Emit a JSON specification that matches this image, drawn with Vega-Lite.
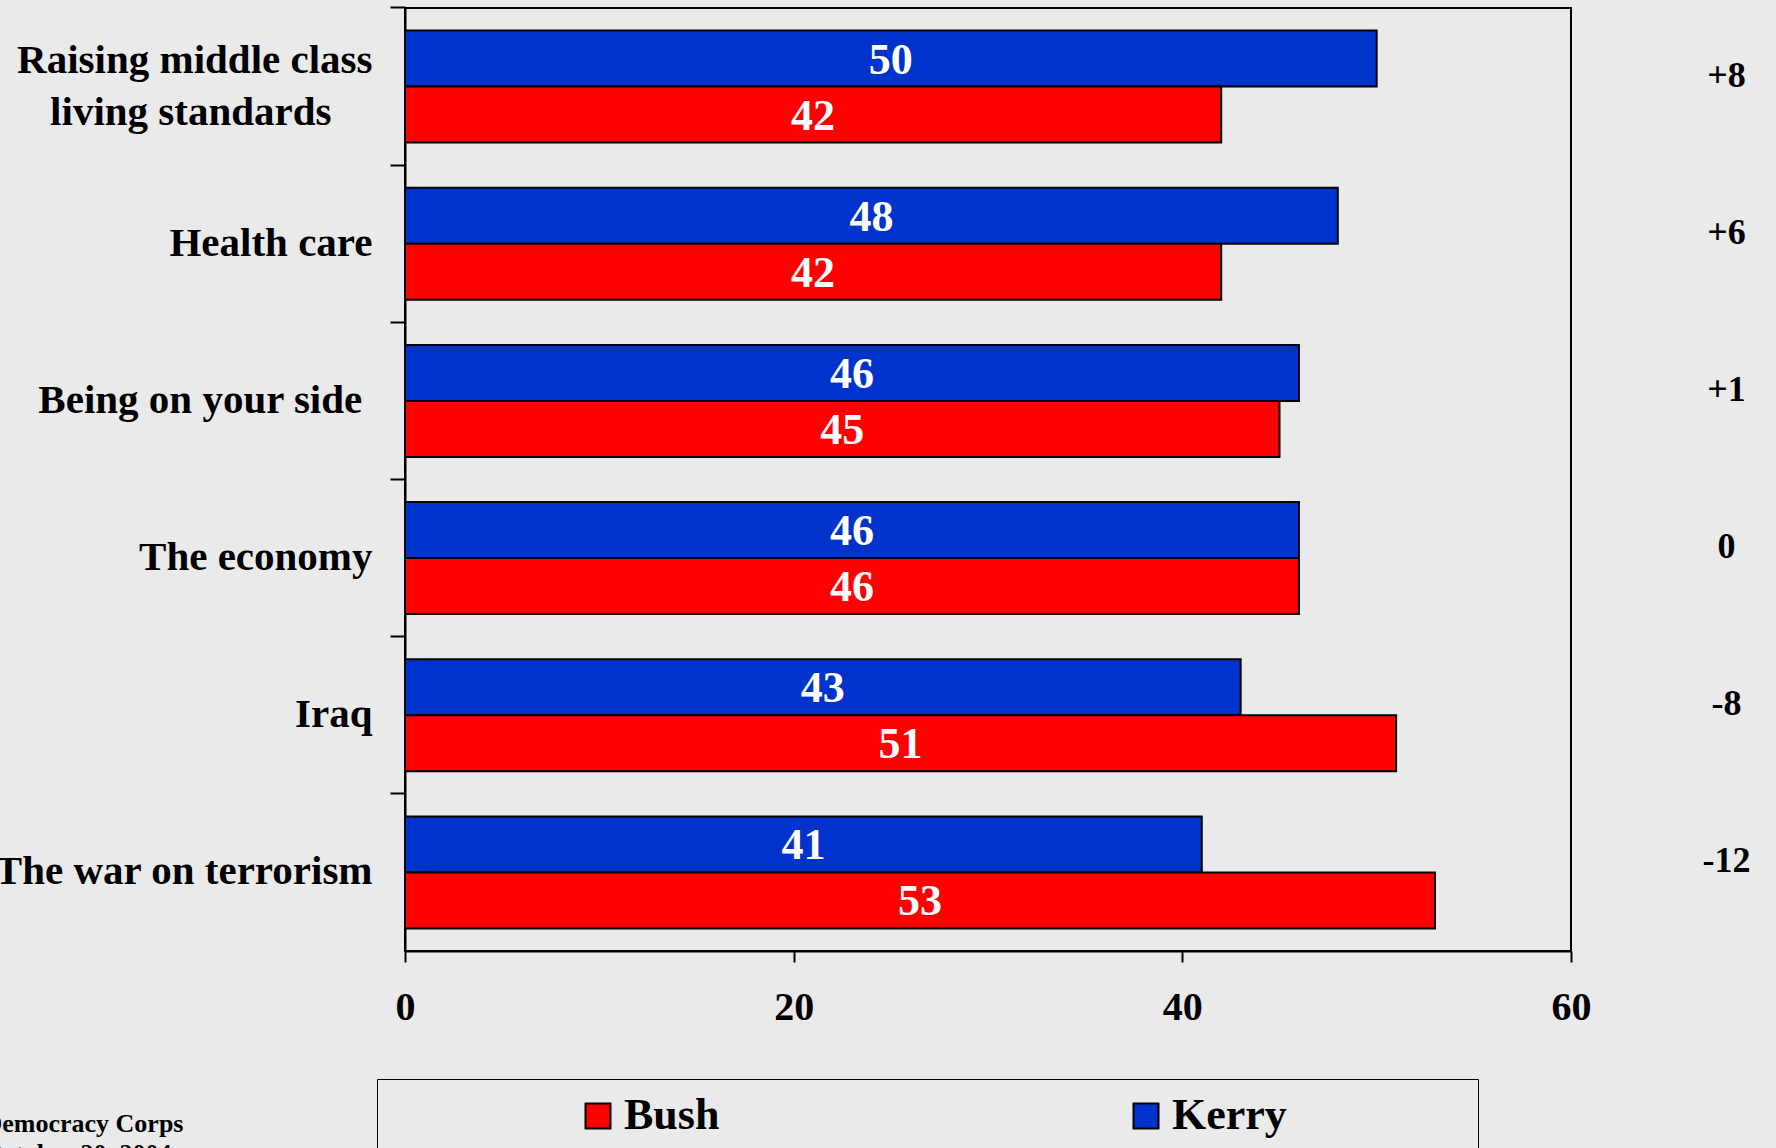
{
  "$schema": "https://vega.github.io/schema/vega-lite/v6.json",
  "width": 1166,
  "height": 943,
  "autosize": {"type": "none"},
  "padding": {"left": 405, "top": 8, "right": 205, "bottom": 197},
  "background": "#EAEAEA",
  "config": {
    "view": {"stroke": "black", "strokeWidth": 2},
    "axis": {
      "domainColor": "black", "domainWidth": 2,
      "tickColor": "black", "tickWidth": 2,
      "labelColor": "black", "labelFont": "Liberation Serif", "labelFontWeight": "bold",
      "grid": false
    }
  },
  "datasets": {
    "votes": [
      {"issue": "Raising middle class living standards", "candidate": "Kerry", "value": 50},
      {"issue": "Raising middle class living standards", "candidate": "Bush", "value": 42},
      {"issue": "Health care", "candidate": "Kerry", "value": 48},
      {"issue": "Health care", "candidate": "Bush", "value": 42},
      {"issue": "Being on your side", "candidate": "Kerry", "value": 46},
      {"issue": "Being on your side", "candidate": "Bush", "value": 45},
      {"issue": "The economy", "candidate": "Kerry", "value": 46},
      {"issue": "The economy", "candidate": "Bush", "value": 46},
      {"issue": "Iraq", "candidate": "Kerry", "value": 43},
      {"issue": "Iraq", "candidate": "Bush", "value": 51},
      {"issue": "The war on terrorism", "candidate": "Kerry", "value": 41},
      {"issue": "The war on terrorism", "candidate": "Bush", "value": 53}
    ],
    "diffs": [
      {"issue": "Raising middle class living standards", "diff": "+8"},
      {"issue": "Health care", "diff": "+6"},
      {"issue": "Being on your side", "diff": "+1"},
      {"issue": "The economy", "diff": "0"},
      {"issue": "Iraq", "diff": "-8"},
      {"issue": "The war on terrorism", "diff": "-12"}
    ]
  },
  "resolve": {"scale": {"x": "independent"}},
  "layer": [
    {
      "data": {"name": "votes"},
      "mark": {"type": "bar", "stroke": "black", "strokeWidth": 2},
      "encoding": {
        "y": {
          "field": "issue", "type": "nominal",
          "scale": {
            "domain": ["Raising middle class living standards", "Health care", "Being on your side", "The economy", "Iraq", "The war on terrorism"],
            "paddingInner": 0.287, "paddingOuter": 0.1435
          },
          "axis": {
            "title": null,
            "bandPosition": -0.2018,
            "tickSize": 15,
            "labelFontSize": 41,
            "labelPadding": 18,
            "labelLimit": 600,
            "labelLineHeight": 52,
            "labelOffset": {"condition": {"test": "datum.value == 'Raising middle class living standards'", "value": -26}, "value": 0},
            "labelExpr": "datum.label == 'Raising middle class living standards' ? ['Raising middle class', 'living standards\u00a0\u00a0\u00a0\u00a0\u200b'] : datum.label == 'Being on your side' ? 'Being on your side\u00a0\u200b' : datum.label"
          }
        },
        "yOffset": {
          "field": "candidate", "type": "nominal",
          "scale": {"domain": ["Kerry", "Bush"], "paddingInner": 0, "paddingOuter": 0}
        },
        "x": {
          "field": "value", "type": "quantitative",
          "scale": {"domain": [0, 60], "nice": false},
          "axis": {
            "values": [0, 20, 40, 60],
            "tickSize": 11,
            "labelFontSize": 40,
            "labelPadding": 25,
            "labelFlush": false,
            "title": ["Democracy Corps", "October 20, 2004"],
            "titleFont": "Liberation Serif",
            "titleFontSize": 26,
            "titleFontWeight": "bold",
            "titleColor": "black",
            "titleAlign": "left",
            "titleAnchor": "start",
            "titleBaseline": "alphabetic",
            "titleX": -422,
            "titleY": 180,
            "titleLineHeight": 30
          }
        },
        "color": {
          "field": "candidate", "type": "nominal",
          "scale": {"domain": ["Bush", "Kerry"], "range": ["#FF0000", "#0033CC"]},
          "legend": {
            "title": "\u00a0",
            "titleOrient": "left",
            "titleFontSize": 10,
            "titlePadding": 184,
            "orient": "none",
            "legendX": -28,
            "legendY": 1071,
            "direction": "horizontal",
            "padding": 15,
            "strokeColor": "black",
            "columnPadding": 404,
            "symbolType": "square",
            "symbolSize": 625,
            "symbolStrokeColor": "black",
            "symbolStrokeWidth": 2,
            "symbolOpacity": 1,
            "labelFont": "Liberation Serif",
            "labelFontSize": 44,
            "labelFontWeight": "bold",
            "labelColor": "black",
            "labelOffset": 4,
            "labelLimit": 800,
            "labelExpr": "datum.label == 'Kerry' ? 'Kerry\u00a0\u00a0\u00a0\u00a0\u00a0\u00a0\u00a0\u00a0\u00a0\u00a0\u00a0\u00a0\u00a0\u00a0\u00a0\u00a0\u200b' : datum.label"
          }
        }
      }
    },
    {
      "data": {"name": "votes"},
      "mark": {"type": "text", "color": "white", "font": "Liberation Serif", "fontWeight": "bold", "fontSize": 44, "align": "center", "baseline": "middle", "dy": 2},
      "encoding": {
        "y": {"field": "issue", "type": "nominal"},
        "yOffset": {"field": "candidate", "type": "nominal"},
        "x": {"field": "value", "type": "quantitative", "scale": {"domain": [0, 120], "nice": false}, "axis": null},
        "text": {"field": "value", "type": "quantitative"}
      }
    },
    {
      "data": {"name": "diffs"},
      "mark": {"type": "text", "color": "black", "font": "Liberation Serif", "fontWeight": "bold", "fontSize": 36, "align": "center", "baseline": "middle", "dy": -11},
      "encoding": {
        "y": {"field": "issue", "type": "nominal"},
        "x": {"datum": 68, "type": "quantitative", "scale": {"domain": [0, 60], "nice": false}, "axis": null},
        "text": {"field": "diff", "type": "nominal"}
      }
    }
  ]
}
